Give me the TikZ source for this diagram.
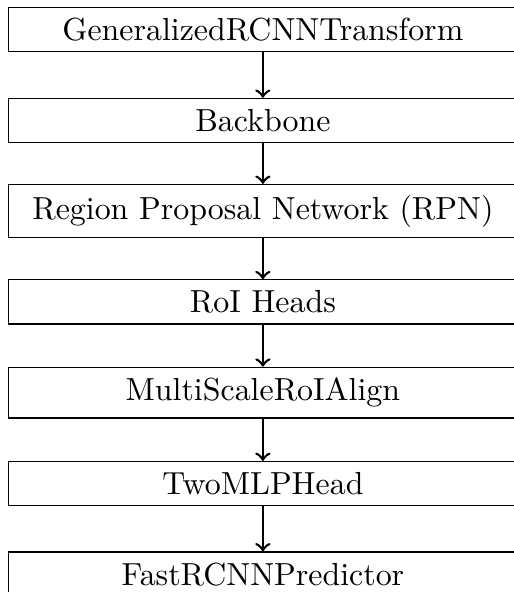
\documentclass[tikz,border=0pt]{standalone}
\begin{document}
\begin{tikzpicture}[
  block/.style={draw, minimum width=5.6cm, align=center},
  flow/.style={->, thick}
]
% fixed frame: the right edge and the bottom box run slightly past it
\useasboundingbox (-82.4pt,9.25pt) rectangle (78.4pt,-176.3pt);

\node[block] (transform) at (0,0)  {GeneralizedRCNNTransform};
\node[block] (backbone)  at (0,-1) {Backbone};
\node[block] (rpn)       at (0,-2) {Region Proposal Network (RPN)};
\node[block] (roiheads)  at (0,-3) {RoI Heads};
\node[block] (roialign)  at (0,-4) {MultiScaleRoIAlign};
\node[block] (mlphead)   at (0,-5) {TwoMLPHead};
\node[block] (predictor) at (0,-6) {FastRCNNPredictor};

\draw[flow] (transform) -- (backbone);
\draw[flow] (backbone)  -- (rpn);
\draw[flow] (rpn)       -- (roiheads);
\draw[flow] (roiheads)  -- (roialign);
\draw[flow] (roialign)  -- (mlphead);
\draw[flow] (mlphead)   -- (predictor);
\end{tikzpicture}
\end{document}
